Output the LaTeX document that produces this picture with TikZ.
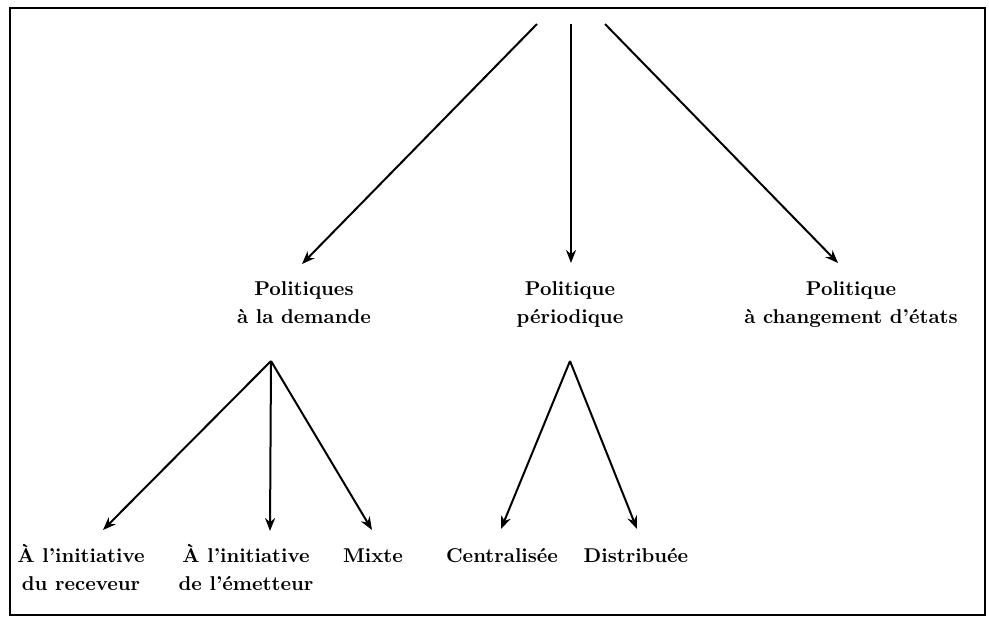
\documentclass[tikz,border=0pt]{standalone}
\usetikzlibrary{arrows.meta}
\begin{document}
\begin{tikzpicture}[x=0.5pt,y=-0.5pt,
  label/.style={font=\fontsize{10}{14}\selectfont\bfseries, align=center, anchor=base, inner sep=0pt},
  link/.style={line width=1pt, -{Stealth[length=6.5pt,width=5pt]}}]
  \useasboundingbox (0,0) rectangle (989,623);
  % frame
  \draw[line width=1.2pt] (10,8) rectangle (985,615);

  % level one (base anchor = baseline of the last line)
  \node[label] (dem) at (304,323) {Politiques\\à la demande};
  \node[label] (per) at (570,323) {Politique\\périodique};
  \node[label] (chg) at (851,323) {Politique\\à changement d’états};

  % level two
  \node[label] (rec) at (81,590)  {À l’initiative\\du receveur};
  \node[label] (emt) at (246,590) {À l’initiative\\de l’émetteur};
  \node[label] (mix) at (373,562) {Mixte};
  \node[label] (cen) at (502,562) {Centralisée};
  \node[label] (dis) at (636,562) {Distribuée};

  % arrow origins and ends
  \coordinate (rootA) at (537,24);
  \coordinate (rootB) at (571,24);
  \coordinate (rootC) at (605,24);
  \coordinate (demIn) at (302,264);
  \coordinate (perIn) at (571,263);
  \coordinate (chgIn) at (838,263);
  \coordinate (demOut) at (271,361);
  \coordinate (perOut) at (570,361);
  \coordinate (recIn) at (103,530);
  \coordinate (emtIn) at (270,531);
  \coordinate (mixIn) at (372,530);
  \coordinate (cenIn) at (501,529);
  \coordinate (disIn) at (637,529);

  \draw[link] (rootA) -- (demIn);
  \draw[link] (rootB) -- (perIn);
  \draw[link] (rootC) -- (chgIn);
  \draw[link] (demOut) -- (recIn);
  \draw[link] (demOut) -- (emtIn);
  \draw[link] (demOut) -- (mixIn);
  \draw[link] (perOut) -- (cenIn);
  \draw[link] (perOut) -- (disIn);
\end{tikzpicture}
\end{document}
